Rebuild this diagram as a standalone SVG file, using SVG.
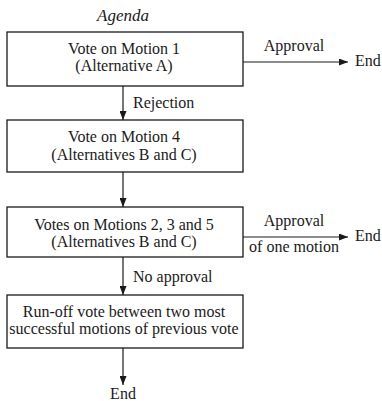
<svg xmlns="http://www.w3.org/2000/svg" width="382" height="401" viewBox="0 0 382 401">
<style>
text{font-family:"Liberation Serif","Times New Roman",serif;font-size:16px;fill:#1a1a1a}
.c{text-anchor:middle}
.box{fill:#fff;stroke:#1a1a1a;stroke-width:1.3}
.ln{stroke:#1a1a1a;stroke-width:1.2;fill:none}
</style>
<defs>
<marker id="ah" markerWidth="9" markerHeight="7" refX="9" refY="3.5" orient="auto" markerUnits="userSpaceOnUse">
<path d="M0,0 L9,3.5 L0,7 Z" fill="#1a1a1a"/>
</marker>
</defs>
<rect width="382" height="401" fill="#fff"/>
<text x="123" y="21" class="c" style="font-style:italic;font-size:17px">Agenda</text>
<g id="connectors">
<line class="ln" x1="243" y1="62" x2="348" y2="62" marker-end="url(#ah)"/>
<line class="ln" x1="123" y1="86" x2="123" y2="120" marker-end="url(#ah)"/>
<line class="ln" x1="123" y1="172" x2="123" y2="207" marker-end="url(#ah)"/>
<line class="ln" x1="243" y1="237" x2="348" y2="237" marker-end="url(#ah)"/>
<line class="ln" x1="123" y1="257" x2="123" y2="295" marker-end="url(#ah)"/>
<line class="ln" x1="123" y1="348" x2="123" y2="385" marker-end="url(#ah)"/>
<text x="294" y="51" class="c">Approval</text>
<text x="133" y="108">Rejection</text>
<text x="294" y="226" class="c">Approval</text>
<text x="294" y="252" class="c">of one motion</text>
<text x="133" y="282">No approval</text>
</g>
<g id="end1"><text x="355" y="66">End</text></g>
<g id="end2"><text x="355" y="241">End</text></g>
<g id="end3"><text x="123" y="399" class="c">End</text></g>
<g id="n1">
<rect class="box" x="7" y="32" width="236" height="54"/>
<text x="124" y="54" class="c">Vote on Motion 1</text>
<text x="124" y="71" class="c">(Alternative A)</text>
</g>
<g id="n2">
<rect class="box" x="7" y="120" width="236" height="52"/>
<text x="124" y="142" class="c">Vote on Motion 4</text>
<text x="124" y="160" class="c">(Alternatives B and C)</text>
</g>
<g id="n3">
<rect class="box" x="7" y="207" width="236" height="50"/>
<text x="124" y="230" class="c">Votes on Motions 2, 3 and 5</text>
<text x="124" y="247" class="c">(Alternatives B and C)</text>
</g>
<g id="n4">
<rect class="box" x="7" y="295" width="236" height="53"/>
<text x="124" y="317" class="c">Run-off vote between two most</text>
<text x="124" y="334" class="c">successful motions of previous vote</text>
</g>
</svg>
